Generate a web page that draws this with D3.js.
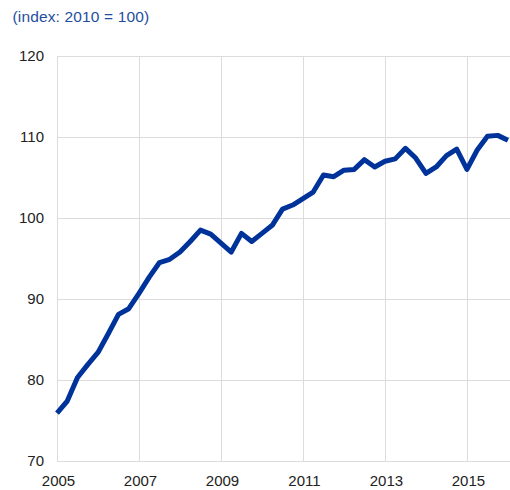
<!DOCTYPE html>
<html><head><meta charset="utf-8">
<script src="https://cdn.jsdelivr.net/npm/d3@7"></script>
<style>body{margin:0;background:#fff}svg{display:block}text{font-family:"Liberation Sans",Arial,sans-serif}</style>
</head><body>
<svg id="c" width="510" height="490"></svg>
<script>
const title = "(index: 2010 = 100)";
const startYear = 2005;
const values = [75.9,77.4,80.3,81.9,83.4,85.7,88.1,88.8,90.7,92.7,94.5,94.9,95.8,97.1,98.5,98.0,96.9,95.8,98.1,97.1,98.1,99.1,101.1,101.6,102.4,103.2,105.3,105.1,105.9,106.0,107.2,106.3,107.0,107.3,108.6,107.4,105.5,106.3,107.7,108.5,106.0,108.4,110.1,110.2,109.6];
const xTicks = [2005,2007,2009,2011,2013,2015];
const yTicks = [70,80,90,100,110,120];
const data = values.map((v,i)=>({t:startYear+i*0.25,v}));

const svg = d3.select("#c");
const x = d3.scaleLinear().domain([2005,2016.05]).range([57,510]);
const y = d3.scaleLinear().domain([70,120]).range([461,56]);

svg.append("text").attr("x",12.5).attr("y",22).attr("font-size",15.5).attr("letter-spacing",0.15).attr("fill","#1f4e9e").text(title);

const grid = svg.append("g").attr("stroke","#dcdcdc").attr("stroke-width",1).attr("shape-rendering","crispEdges");
yTicks.forEach(t=>grid.append("line").attr("x1",57).attr("x2",510).attr("y1",Math.round(y(t))+0.5).attr("y2",Math.round(y(t))+0.5));
xTicks.forEach(t=>grid.append("line").attr("x1",Math.round(x(t))+0.5).attr("x2",Math.round(x(t))+0.5).attr("y1",y(120)).attr("y2",y(70)));

const yAxis = svg.append("g").attr("transform","translate(44,0)").call(d3.axisLeft(y).tickValues(yTicks).tickSize(0).tickPadding(0));
yAxis.select(".domain").remove();
yAxis.selectAll("text").attr("font-size",15).attr("fill","#222").attr("font-family","'Liberation Sans',Arial,sans-serif");

const xAxis = svg.append("g").attr("transform","translate(1,475)").call(d3.axisBottom(x).tickValues(xTicks).tickFormat(d3.format("d")).tickSize(0).tickPadding(0));
xAxis.select(".domain").remove();
xAxis.selectAll("text").attr("font-size",15).attr("fill","#222").attr("font-family","'Liberation Sans',Arial,sans-serif");

svg.append("path").datum(data)
  .attr("fill","none").attr("stroke","#003399").attr("stroke-width",5).attr("stroke-linejoin","round")
  .attr("d",d3.line().x(d=>x(d.t)).y(d=>y(d.v)));
</script>
</body></html>
